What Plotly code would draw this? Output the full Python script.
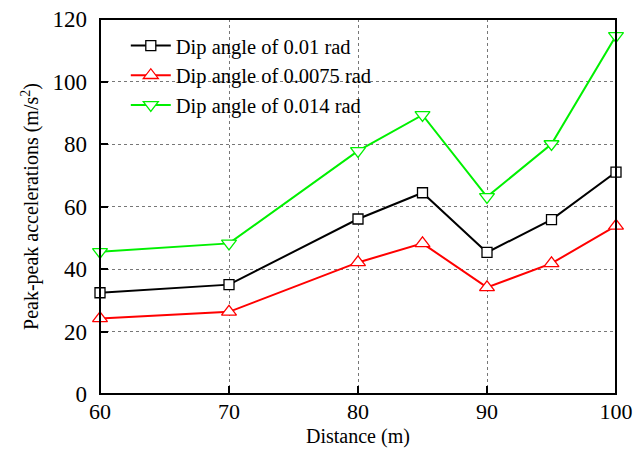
import plotly.graph_objects as go

distance = [60, 70, 80, 85, 90, 95, 100]
dip_001 = [32.4, 35.0, 56.0, 64.4, 45.3, 55.8, 71.0]
dip_00075 = [24.2, 26.3, 42.1, 48.2, 34.1, 41.8, 53.8]
dip_0014 = [45.5, 48.2, 77.8, 89.3, 63.1, 80.0, 114.6]
names = ["Dip angle of 0.01 rad", "Dip angle of 0.0075 rad", "Dip angle of 0.014 rad"]
x_ticks = [60, 70, 80, 90, 100]
y_ticks = [0, 20, 40, 60, 80, 100, 120]

fig = go.Figure()
styles = [
    (dip_001, "black", "square", 10),
    (dip_00075, "#ff0000", "triangle-up", 13),
    (dip_0014, "#00f000", "triangle-down", 13),
]
for (vals, col, sym, sz), nm in zip(styles, names):
    fig.add_trace(go.Scatter(
        x=distance, y=vals, name=nm, mode="lines+markers",
        line=dict(color=col, width=2),
        marker=dict(symbol=sym, size=sz, color="white",
                    line=dict(color=col, width=1.3)),
        cliponaxis=False,
    ))

font = dict(family="Liberation Serif, Times New Roman, serif", color="black")
fig.update_layout(
    width=643, height=454,
    margin=dict(l=100, r=27, t=19, b=60),
    plot_bgcolor="white", paper_bgcolor="white",
    font=dict(**font, size=20),
    showlegend=True,
    legend=dict(x=0.05, y=0.982, xanchor="left", yanchor="top",
                bgcolor="rgba(0,0,0,0)", font=dict(**font, size=20.5),
                tracegroupgap=0, itemwidth=40),
    xaxis=dict(range=[60, 100], tickvals=x_ticks, ticks="inside", ticklen=8,
               tickwidth=2, tickcolor="black", ticklabelstandoff=2,
               automargin=False,
               showgrid=True, gridcolor="#777", griddash="dot", gridwidth=1,
               showline=False, zeroline=False,
               tickfont=dict(**font, size=22)),
    yaxis=dict(range=[0, 120], tickvals=y_ticks, ticks="inside", ticklen=8,
               tickwidth=2, tickcolor="black", ticklabelstandoff=12,
               automargin=False,
               showgrid=True, gridcolor="#777", griddash="dot", gridwidth=1,
               showline=False, zeroline=False,
               title=dict(text="Peak-peak accelerations (m/s<sup>2</sup>)",
                          font=dict(**font, size=20), standoff=8),
               tickfont=dict(**font, size=23)),
    annotations=[dict(text="Distance (m)", xref="paper", yref="paper", x=0.5, y=0,
                      xanchor="center", yanchor="middle", yshift=-42,
                      showarrow=False, font=dict(**font, size=20))],
)
fig.add_shape(type="rect", xref="paper", yref="paper", x0=0, y0=0, x1=1, y1=1,
              line=dict(color="black", width=2), layer="above")
fig.write_html("out.html")
